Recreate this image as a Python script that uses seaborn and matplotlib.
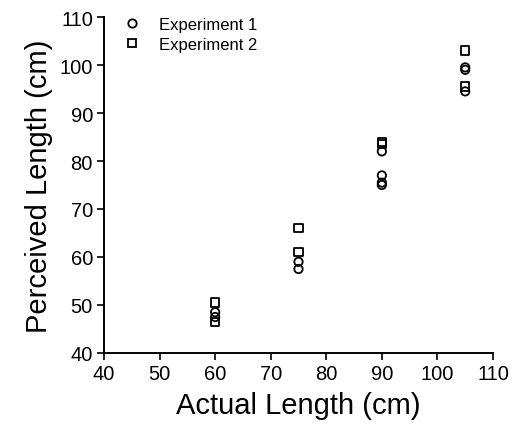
import numpy as np
import pandas as pd
import matplotlib
matplotlib.use("Agg")
import matplotlib.pyplot as plt
import seaborn as sns

# --- Data ---
exp1_actual = [60, 60, 75, 75, 90, 90, 90, 90, 105, 105, 105]
exp1_perceived = [48.5, 47.5, 59, 57.5, 82, 77, 75.5, 75, 99.5, 99, 94.5]

exp2_actual = [60, 60, 75, 75, 90, 90, 105, 105]
exp2_perceived = [50.5, 46.5, 66, 61, 84, 83.5, 103, 95.5]

x_ticks = [40, 50, 60, 70, 80, 90, 100, 110]
y_ticks = [40, 50, 60, 70, 80, 90, 100, 110]

df = pd.concat([
    pd.DataFrame({"actual": exp1_actual, "perceived": exp1_perceived, "group": "Experiment 1"}),
    pd.DataFrame({"actual": exp2_actual, "perceived": exp2_perceived, "group": "Experiment 2"}),
])

sns.set_style("ticks", {"text.color": "black", "axes.labelcolor": "black",
                        "xtick.color": "black", "ytick.color": "black",
                        "axes.edgecolor": "black"})
plt.rcParams['font.family'] = ['Liberation Sans', 'DejaVu Sans']

fig = plt.figure(figsize=(5.13, 4.39), dpi=100)
ax = fig.add_axes([104 / 513, 1 - 354 / 439, (493 - 104) / 513, (354 - 18) / 439])

sns.scatterplot(data=df, x="actual", y="perceived", style="group",
                markers={"Experiment 1": "o", "Experiment 2": "s"},
                facecolor="none", edgecolor="black", linewidth=1.3, s=36,
                color="black", ax=ax, legend=False, zorder=3)

ax.set_xlim(40, 110)
ax.set_ylim(40, 110)
ax.set_xticks(x_ticks)
ax.set_yticks(y_ticks)
ax.tick_params(labelsize=14.5, width=1.2, length=5, direction="out", colors="black", pad=3)
ax.set_xlabel("Actual Length (cm)", fontsize=21, labelpad=6)
ax.set_ylabel("Perceived Length (cm)", fontsize=21, labelpad=5)
for s in ["left", "bottom"]:
    ax.spines[s].set_linewidth(1.4)
sns.despine(ax=ax)

# Legend
handles = [
    plt.Line2D([], [], marker="o", linestyle="None", markerfacecolor="none",
               markeredgecolor="black", markeredgewidth=1.3, markersize=6, label="Experiment 1"),
    plt.Line2D([], [], marker="s", linestyle="None", markerfacecolor="none",
               markeredgecolor="black", markeredgewidth=1.3, markersize=6, label="Experiment 2"),
]
ax.legend(handles=handles, loc="upper left", bbox_to_anchor=(0.0, 1.045), frameon=False,
          fontsize=12, handletextpad=0.9, labelspacing=0.3, handlelength=1.5)

fig.savefig("out.png", dpi=100)
